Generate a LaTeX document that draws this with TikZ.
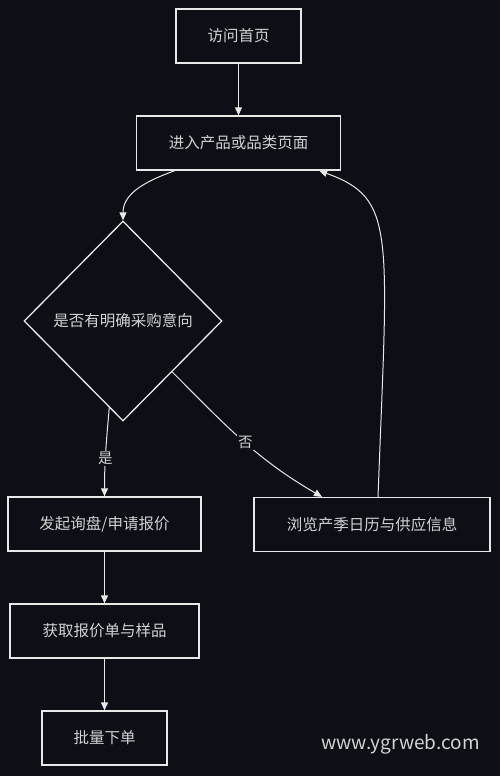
\documentclass[tikz,border=0pt]{standalone}
\usepackage{fontspec}
\setmainfont{Noto Sans CJK SC}
\usetikzlibrary{positioning,shapes.geometric,arrows.meta}
\definecolor{bgc}{HTML}{0C0F16}
\definecolor{linec}{HTML}{E8E8E8}
\definecolor{textc}{HTML}{D2D2D2}
\begin{document}
\begin{tikzpicture}[x=1pt,y=1pt,
    box/.style={draw=linec,fill=bgc,line width=1.3pt,minimum height=54pt,inner sep=0pt,
      text=textc,font=\fontsize{15.5}{18}\selectfont},
    decide/.style={diamond,aspect=1,draw=linec,fill=bgc,line width=1.3pt,
      minimum width=198pt,minimum height=200pt,inner sep=0pt,
      text=textc,font=\fontsize{15.5}{18}\selectfont},
    arr/.style={draw=linec,line width=1pt,-{Triangle[length=8pt,width=7pt]}},
    lab/.style={fill=bgc,text=textc,inner sep=1.5pt,font=\fontsize{14.5}{17}\selectfont},
    node distance=107pt]
              \useasboundingbox[fill=bgc] (0,0) rectangle (500,-776);

              \node[box,minimum width=125pt] (visit) at (238.5,-36) {访问首页};
              \node[box,minimum width=204pt] (page) [below of=visit] {进入产品或品类页面};

              \node[decide] (ask) at (123,-321) {是否有明确采购意向};

              \node[box,minimum width=193pt] (inquiry) at (104.5,-524) {发起询盘/申请报价};
              \node[box,minimum width=189pt] (quote) [below of=inquiry] {获取报价单与样品};
              \node[box,minimum width=125pt] (order) [below of=quote] {批量下单};

              \node[box,minimum width=236pt] (browse) at (372,-524.5) {浏览产季日历与供应信息};

              \node[text=textc,font=\fontsize{19}{22}\selectfont] (site) at (400.5,-744) {www.ygrweb.com};

              \draw[arr] (visit) -- (page);
              \draw[arr] ([xshift=39pt]page.south west) to[out=200,in=90] (ask.north);
              \draw[arr] (ask.261) to[out=-95,in=90] node[lab,pos=0.58] {是} (inquiry.north);
              \draw[arr] (ask.314) to[out=-45,in=150] node[lab,pos=0.52] {否} ([xshift=-50pt]browse.north);
              \draw[arr] ([xshift=6pt]browse.north) .. controls +(10,267) and +(77,-28) .. ([xshift=-22pt]page.south east);
              \draw[arr] (inquiry) -- (quote);
              \draw[arr] (quote) -- (order);

          \end{tikzpicture}
\end{document}
